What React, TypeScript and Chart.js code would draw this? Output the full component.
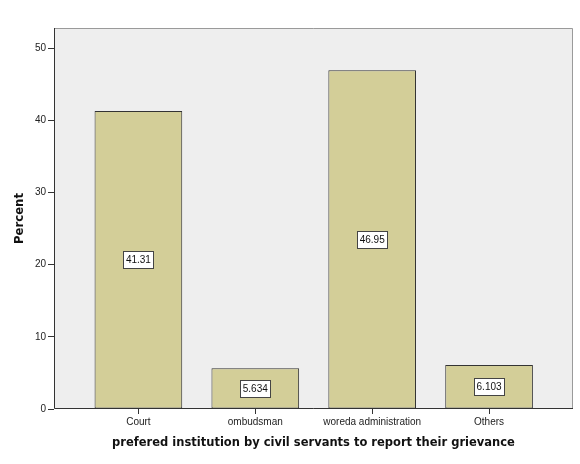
import { useEffect, useRef } from "react"
import { Chart, type ChartConfiguration, type Plugin, registerables } from "chart.js"

Chart.register(...registerables)

const categories = ["Court", "ombudsman", "woreda administration", "Others"]
const percents = [41.31, 5.634, 46.95, 6.103]
const percentLabels = ["41.31", "5.634", "46.95", "6.103"]
const yTicks = [0, 10, 20, 30, 40, 50]

// grey plot background + frame like SPSS output
const framePlugin: Plugin = {
  id: "frame",
  beforeDraw(chart) {
    const { ctx, chartArea: a } = chart
    ctx.save()
    ctx.fillStyle = "#eeeeee"
    ctx.fillRect(a.left, a.top, a.right - a.left, a.bottom - a.top)
    ctx.restore()
  },
  afterDraw(chart) {
    const { ctx, chartArea: a } = chart
    ctx.save()
    ctx.lineWidth = 1
    ctx.strokeStyle = "#9a9a9a"
    ctx.beginPath()
    ctx.moveTo(a.left, a.top + 0.5)
    ctx.lineTo(a.right - 0.5, a.top + 0.5)
    ctx.lineTo(a.right - 0.5, a.bottom)
    ctx.stroke()
    ctx.strokeStyle = "#333333"
    ctx.beginPath()
    ctx.moveTo(a.left + 0.5, a.top)
    ctx.lineTo(a.left + 0.5, a.bottom - 0.5)
    ctx.lineTo(a.right, a.bottom - 0.5)
    ctx.stroke()
    ctx.restore()
  },
}

// boxed value labels in the middle of each bar
const boxLabelPlugin: Plugin = {
  id: "boxLabels",
  afterDatasetsDraw(chart) {
    const { ctx } = chart
    const meta = chart.getDatasetMeta(0)
    ctx.save()
    ctx.font = "10px 'Liberation Sans', Arial, sans-serif"
    ctx.textAlign = "center"
    ctx.textBaseline = "middle"
    meta.data.forEach((bar: any, i) => {
      const text = percentLabels[i]
      const cx = bar.x
      const cy = (bar.y + bar.base) / 2
      const w = Math.round(ctx.measureText(text).width + 5)
      const h = 17
      const x0 = Math.round(cx - w / 2) + 0.5
      const y0 = Math.round(cy - h / 2) + 0.5
      ctx.fillStyle = "#ffffff"
      ctx.fillRect(x0, y0, w, h)
      ctx.strokeStyle = "#444444"
      ctx.lineWidth = 1
      ctx.strokeRect(x0, y0, w, h)
      ctx.fillStyle = "#111111"
      ctx.fillText(text, cx, cy + 1)
    })
    ctx.restore()
  },
}

export default function App() {
  const chartRef = useRef<HTMLCanvasElement>(null)
  const chartInstance = useRef<Chart | null>(null)

  useEffect(() => {
    if (!chartRef.current) return
    if (chartInstance.current) chartInstance.current.destroy()
    const ctx = chartRef.current.getContext("2d")
    if (!ctx) return

    const config: ChartConfiguration = {
      type: "bar",
      data: {
        datasets: [
          {
            label: "Percent",
            data: percents.map((v, i) => ({ x: i, y: v })),
            backgroundColor: "#d3ce98",
            borderColor: "#333333",
            borderWidth: 1,
            borderSkipped: false,
            barPercentage: 0.75,
            categoryPercentage: 1,
          },
        ],
      },
      options: {
        animation: false,
        responsive: true,
        maintainAspectRatio: false,
        layout: { padding: { top: 28, right: 7, left: 0, bottom: 0 } },
        plugins: {
          legend: { display: false },
          tooltip: { enabled: false },
        },
        scales: {
          x: {
            type: "linear",
            min: -0.722,
            max: 3.718,
            offset: false,
            afterBuildTicks: (scale) => {
              scale.ticks = categories.map((_, i) => ({ value: i }))
            },
            afterFit: (scale) => {
              scale.height = 55
            },
            grid: {
              offset: false,
              drawOnChartArea: false,
              drawTicks: true,
              tickLength: 5,
              color: "#333333",
            },
            border: { display: false },
            ticks: {
              padding: 2,
              color: "#222222",
              font: { family: "'Liberation Sans', Arial, sans-serif", size: 10 },
              callback: (v) => categories[Number(v)] ?? "",
              maxRotation: 0,
              autoSkip: false,
            },
            title: {
              display: true,
              text: "prefered institution by civil servants to report their grievance",
              color: "#111111",
              font: { family: "'DejaVu Sans', Verdana, sans-serif", size: 11.5, weight: "bold" },
              padding: { top: 0, bottom: 14 },
            },
          },
          y: {
            min: 0,
            max: 52.8,
            afterBuildTicks: (scale) => {
              scale.ticks = yTicks.map((v) => ({ value: v }))
            },
            afterFit: (scale) => {
              scale.width = 54
            },
            grid: {
              drawOnChartArea: false,
              drawTicks: true,
              tickLength: 6,
              color: "#333333",
            },
            border: { display: false },
            ticks: {
              padding: 2,
              color: "#222222",
              font: { family: "'Liberation Sans', Arial, sans-serif", size: 10 },
            },
            title: {
              display: true,
              text: "Percent",
              color: "#111111",
              font: { family: "'DejaVu Sans', Verdana, sans-serif", size: 11.7, weight: "bold" },
              padding: { top: 13, bottom: 0 },
            },
          },
        },
      },
      plugins: [framePlugin, boxLabelPlugin],
    }

    chartInstance.current = new Chart(ctx, config)

    return () => {
      if (chartInstance.current) {
        chartInstance.current.destroy()
        chartInstance.current = null
      }
    }
  }, [])

  return (
    <div style={{ position: "absolute", left: 0, top: 0, width: 580, height: 464, background: "#ffffff" }}>
      <canvas ref={chartRef} />
    </div>
  )
}
